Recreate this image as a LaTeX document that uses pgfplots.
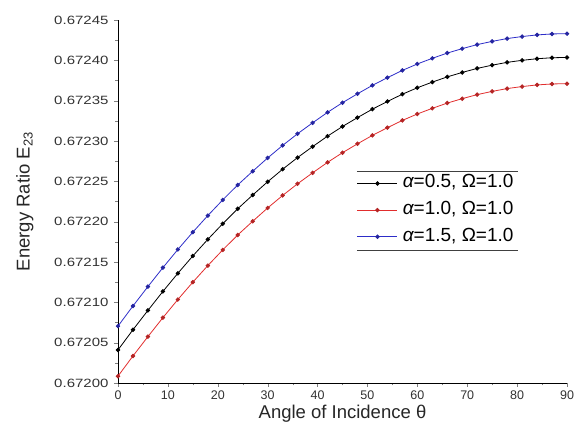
\documentclass[border=0pt]{standalone}
\usepackage{fontspec}
\setmainfont{Liberation Sans}
\newfontfamily\widefont[FakeStretch=1.25]{Liberation Sans}
\usepackage{pgfplots}
\pgfplotsset{compat=1.18}
\usetikzlibrary{calc}

\definecolor{cred}{RGB}{225,45,45}
\definecolor{cblue}{RGB}{45,45,200}

\begin{document}
\begin{tikzpicture}
\begin{axis}[
    name=ax,
    scale only axis,
    width=449pt, height=363pt,
    xmin=0, xmax=90,
    ymin=0.672, ymax=0.67245,
    enlargelimits=false,
    axis lines*=left,
    tick align=outside,
    major tick length=4pt,
    minor tick length=2.5pt,
    xtick={0,10,20,30,40,50,60,70,80,90},
    ytick={0.672,0.67205,0.6721,0.67215,0.6722,0.67225,0.6723,0.67235,0.6724,0.67245},
    minor x tick num=1,
    minor y tick num=1,
    scaled y ticks=false,
    xticklabel style={font=\fontsize{12.5}{15}\selectfont, text=black!80},
    yticklabel style={font=\widefont\fontsize{12}{15}\selectfont, text=black!80, xshift=-2pt,
        /pgf/number format/.cd, fixed, fixed zerofill, precision=5},
    /pgf/number format/assume math mode=true,
    xlabel={Angle of Incidence θ},
    ylabel={Energy Ratio E\textsubscript{23}},
    label style={font=\fontsize{18.5}{21}\selectfont, text=black!85},
    xlabel style={yshift=1pt},
    ylabel style={yshift=14pt},
    every axis plot/.append style={line width=0.8pt, mark=*, mark size=1.8pt},
    legend cell align=left,
    legend style={at={(rel axis cs:0.532,0.582)}, anchor=north west,
        draw=none, fill=none, font=\fontsize{19}{22}\selectfont,
        nodes={inner sep=0pt, text height=13pt, text depth=4pt},
        row sep=9.7pt, column sep=5pt, inner ysep=3pt, inner xsep=0pt},
    legend image code/.code={\draw[mark repeat=2,mark phase=2] plot coordinates {(0pt,0pt) (20pt,0pt) (40pt,0pt)};},
]
\addplot[black, mark options={fill=black}] coordinates {
(0,0.6720410) (3,0.6720660) (6,0.6720900) (9,0.6721135) (12,0.6721360)
(15,0.6721575) (18,0.6721780) (21,0.6721975) (24,0.6722160) (27,0.6722330)
(30,0.6722495) (33,0.6722650) (36,0.6722795) (39,0.6722930) (42,0.6723060)
(45,0.6723180) (48,0.6723290) (51,0.6723395) (54,0.6723490) (57,0.6723580)
(60,0.6723660) (63,0.6723730) (66,0.6723795) (69,0.6723850) (72,0.6723900)
(75,0.6723940) (78,0.6723975) (81,0.6724000) (84,0.6724020) (87,0.6724032)
(90,0.6724036)
};
\addlegendentry{{\itshape α}=0.5, Ω=1.0}
\addplot[cred, mark options={fill=cred!80!black, draw=cred!80!black}] coordinates {
(0,0.6720085) (3,0.6720335) (6,0.6720575) (9,0.6720810) (12,0.6721035)
(15,0.6721250) (18,0.6721455) (21,0.6721650) (24,0.6721835) (27,0.6722005)
(30,0.6722170) (33,0.6722325) (36,0.6722470) (39,0.6722605) (42,0.6722735)
(45,0.6722855) (48,0.6722965) (51,0.6723070) (54,0.6723165) (57,0.6723255)
(60,0.6723335) (63,0.6723405) (66,0.6723470) (69,0.6723525) (72,0.6723575)
(75,0.6723615) (78,0.6723650) (81,0.6723675) (84,0.6723695) (87,0.6723707)
(90,0.6723711)
};
\addlegendentry{{\itshape α}=1.0, Ω=1.0}
\addplot[cblue, mark options={fill=cblue!80!black, draw=cblue!80!black}] coordinates {
(0,0.6720705) (3,0.6720955) (6,0.6721195) (9,0.6721430) (12,0.6721655)
(15,0.6721870) (18,0.6722075) (21,0.6722270) (24,0.6722455) (27,0.6722625)
(30,0.6722790) (33,0.6722945) (36,0.6723090) (39,0.6723225) (42,0.6723355)
(45,0.6723475) (48,0.6723585) (51,0.6723690) (54,0.6723785) (57,0.6723875)
(60,0.6723955) (63,0.6724025) (66,0.6724090) (69,0.6724145) (72,0.6724195)
(75,0.6724235) (78,0.6724270) (81,0.6724295) (84,0.6724315) (87,0.6724327)
(90,0.6724331)
};
\addlegendentry{{\itshape α}=1.5, Ω=1.0}
\draw[black!75, line width=1.2pt] (rel axis cs:0.532,0.582) -- (rel axis cs:0.891,0.582);
\draw[black!75, line width=1.2pt] (rel axis cs:0.532,0.366) -- (rel axis cs:0.891,0.366);
\end{axis}
\pgfresetboundingbox
\path ($(ax.south west)+(-118pt,-58pt)$) rectangle ($(ax.north east)+(8pt,20pt)$);
\end{tikzpicture}
\end{document}
